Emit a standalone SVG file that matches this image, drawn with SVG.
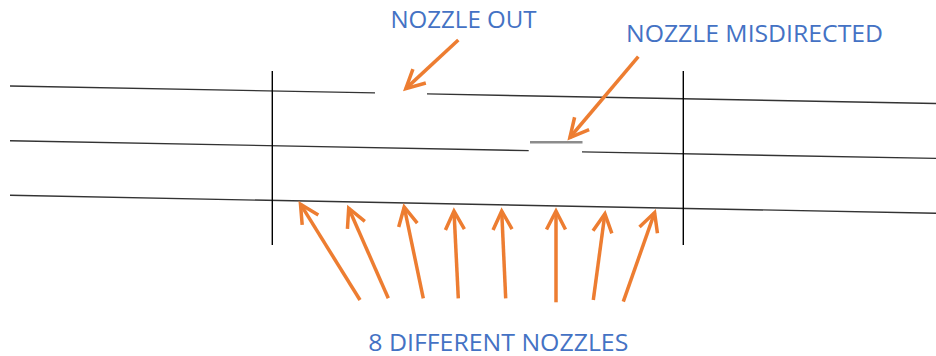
<svg xmlns="http://www.w3.org/2000/svg" width="936" height="356" viewBox="0 0 936 356">
  <style>
    .row { stroke: #333; stroke-width: 1.4; fill: none; }
    .edge { stroke: #000; stroke-width: 1.4; fill: none; }
    .bent { stroke: #8c8c8c; stroke-width: 2.4; fill: none; }
    .ptr { stroke: #ED7D31; stroke-width: 3.5; fill: none; marker-end: url(#head); }
    .lbl { font-family: "Open Sans", "Liberation Sans", sans-serif; font-weight: 400; font-size: 24.5px; fill: #4472C4; }
  </style>
  <defs>
    <marker id="head" markerUnits="userSpaceOnUse" viewBox="-26 -16 32 32" markerWidth="32" markerHeight="32" refX="0" refY="0" orient="auto" overflow="visible">
      <path d="M-18.5,-9.5 L0,0 L-18.5,9.5" fill="none" stroke="#ED7D31" stroke-width="3.5" stroke-linejoin="miter"/>
    </marker>
  </defs>
  <rect width="936" height="356" fill="#fff"/>

  <!-- print rows (slightly sloped) -->
  <g id="rows">
    <path class="row" d="M10,86 L375,92.9"/>
    <path class="row" d="M427,93.9 L936,103.5"/>
    <path class="row" d="M10,140.7 L528.7,150.6"/>
    <path class="row" d="M582,151.9 L936,158.4"/>
    <path class="row" d="M10,195.3 L936,213.3"/>
  </g>

  <!-- misdirected nozzle stroke -->
  <g id="misdirected-segment">
    <path class="bent" d="M530,142.3 L582.5,142.3"/>
  </g>

  <!-- head boundaries -->
  <g id="bounds">
    <path class="edge" d="M272.3,71 V245"/>
    <path class="edge" d="M683.3,71 V245"/>
  </g>

  <!-- labels -->
  <g id="label-out">
    <text class="lbl" x="390.5" y="28.3" textLength="146" lengthAdjust="spacingAndGlyphs">NOZZLE OUT</text>
  </g>
  <g id="label-misdirected">
    <text class="lbl" x="626" y="41.7" textLength="257" lengthAdjust="spacingAndGlyphs">NOZZLE MISDIRECTED</text>
  </g>
  <g id="label-nozzles">
    <text class="lbl" x="368.3" y="350.5" textLength="260" lengthAdjust="spacingAndGlyphs">8 DIFFERENT NOZZLES</text>
  </g>

  <!-- arrows -->
  <g id="connectors">
    <path class="ptr" d="M458.3,40 L405.8,88.6"/>
    <path class="ptr" d="M638.3,56.7 L569.9,137.5"/>
    <path class="ptr" d="M360,300 L300.5,204.2"/>
    <path class="ptr" d="M388.3,298.3 L348.7,208.2"/>
    <path class="ptr" d="M423.3,298.3 L404.2,207"/>
    <path class="ptr" d="M458.3,298.3 L454,211"/>
    <path class="ptr" d="M505.7,298.3 L501.7,211"/>
    <path class="ptr" d="M556,302.3 L556,211"/>
    <path class="ptr" d="M593.3,300 L604.9,213.7"/>
    <path class="ptr" d="M623.3,301.7 L654.6,212.6"/>
  </g>
</svg>
